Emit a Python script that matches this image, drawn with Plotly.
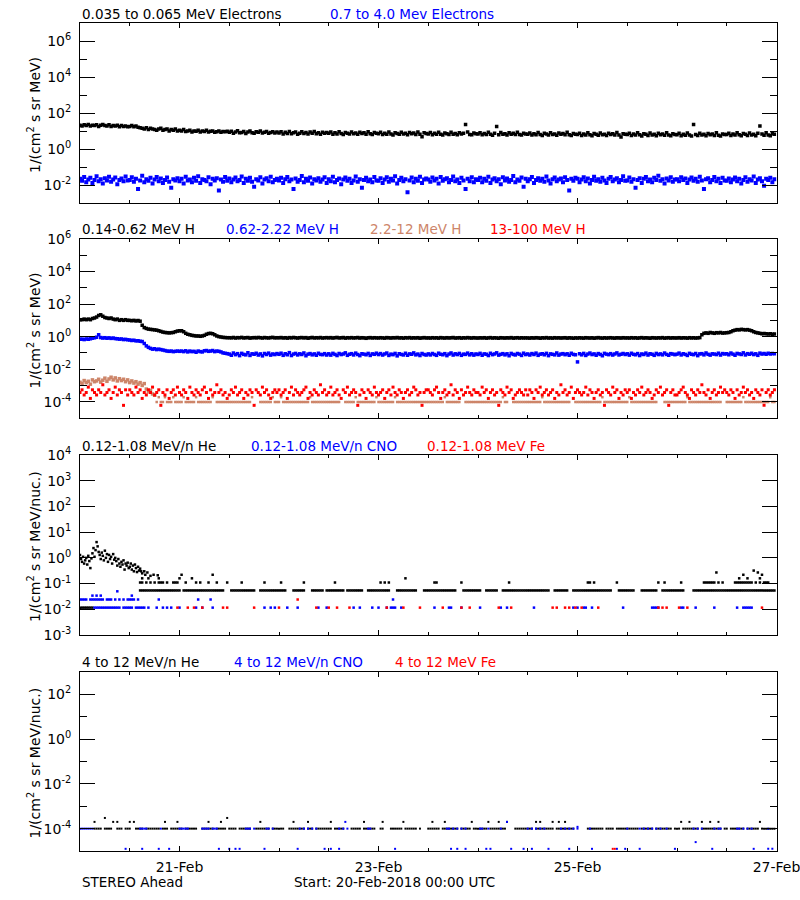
import plotly.graph_objects as go
import pandas as pd

START = pd.Timestamp("2018-02-20 00:00")
END = pd.Timestamp("2018-02-27 00:00")

# ---------------- Panel 1: electrons, 30-min samples ----------------
E_LO = [21,19,22,20,23,19,21,20,22,18,21,23,20,19,22,18,20,19,21,17,20,18,19,17,
 18,20,17,19,16,15,14,13,15,12,14,13,12,11,13,14,11,12,13,10,12,11,13,10,
 11,10,12,9.4,10,11,8.9,10,9.6,11,8.7,10,9.3,11,8.8,9.7,10,8.5,9.2,10,8.6,9.5,9.0,9.8,
 8.5,9.8,7.6,8.9,10.2,7.9,8.3,9.4,7.2,8.8,9.9,8.0,7.5,9.1,8.4,10,7.7,8.6,9.5,7.4,8.2,9.2,7.8,8.7,
 7.8,9.1,6.9,8.4,7.3,9.5,7.0,8.1,8.8,6.7,7.6,9.0,7.2,8.3,6.8,8.9,7.5,9.3,7.1,8.0,6.6,8.6,7.4,8.2,
 7.4,8.7,6.6,7.9,6.9,9.0,7.2,6.4,8.3,7.6,6.8,8.9,7.0,7.7,6.5,8.5,7.3,8.0,6.7,9.1,7.1,6.3,8.2,7.5,
 7.1,8.4,6.4,7.6,6.7,8.8,6.9,5.9,8.0,7.3,6.5,8.6,6.8,7.4,6.2,8.3,7.0,7.8,6.4,8.9,6.6,4.8,7.9,7.2,
 6.9,8.2,6.2,7.4,6.5,8.6,6.7,6.0,7.8,7.1,6.3,8.4,6.6,7.2,6.1,8.0,6.8,7.5,23,8.7,6.4,6.1,7.7,7.0,
 6.8,8.0,6.1,7.3,6.4,8.5,6.6,5.8,7.6,18,6.2,8.2,6.5,7.1,6.0,7.9,6.7,7.4,6.3,8.6,6.4,5.9,7.5,6.9,
 6.6,7.8,5.9,7.1,6.2,8.3,6.4,5.6,7.4,6.8,6.0,8.0,6.3,6.9,5.8,7.7,6.5,7.2,6.1,8.4,6.2,5.7,7.3,6.7,
 6.4,7.6,5.7,6.9,6.0,8.1,6.2,5.4,7.2,6.6,5.8,7.8,6.1,6.7,5.6,7.5,6.3,7.0,5.9,8.2,6.0,4.6,7.1,6.5,
 6.3,7.5,5.6,6.8,5.9,7.9,6.1,5.3,7.1,6.5,5.7,7.7,6.0,6.6,5.5,7.4,6.2,6.9,5.8,8.0,5.9,5.4,7.0,6.4,
 6.2,7.4,5.5,6.7,5.8,7.8,6.0,5.2,23,6.4,5.6,7.6,5.9,6.5,5.4,7.3,6.1,6.8,5.7,7.9,5.8,5.3,6.9,6.3,
 6.3,7.5,5.6,6.8,5.9,7.9,6.1,5.4,7.2,6.5,5.7,7.7,6.0,6.6,5.5,7.4,19,6.9,5.8,8.0,5.9,5.5,7.0,6.6]

E_HI = [.022,.017,.028,.014,.020,.025,.013,.019,.031,.016,.021,.012,.024,.018,.029,.015,.020,.026,.011,.019,.023,.016,.030,.018,
 .019,.027,.015,.022,.006,.018,.033,.014,.021,.017,.025,.012,.020,.028,.016,.023,.013,.019,.026,.015,.007,.021,.018,.024,
 .016,.022,.012,.029,.018,.020,.014,.025,.017,.031,.013,.021,.019,.016,.027,.011,.022,.018,.024,.005,.020,.015,.028,.017,
 .023,.014,.020,.026,.016,.019,.030,.013,.022,.017,.025,.015,.008,.021,.018,.027,.012,.020,.024,.016,.029,.014,.019,.022,
 .018,.025,.013,.021,.028,.016,.020,.006,.023,.015,.019,.032,.014,.022,.017,.026,.012,.021,.018,.024,.015,.020,.027,.013,
 .021,.016,.029,.014,.019,.023,.011,.020,.026,.017,.022,.013,.018,.030,.015,.021,.007,.019,.025,.016,.020,.014,.028,.018,
 .017,.024,.013,.020,.027,.015,.022,.018,.031,.012,.019,.025,.016,.021,.004,.018,.026,.014,.022,.017,.029,.013,.020,.023,
 .020,.015,.026,.018,.022,.012,.028,.017,.021,.024,.014,.019,.030,.016,.020,.013,.025,.018,.006,.022,.016,.027,.014,.021,
 .019,.025,.014,.022,.017,.029,.013,.020,.024,.016,.021,.011,.027,.018,.023,.015,.019,.032,.014,.020,.017,.026,.008,.022,
 .016,.021,.028,.013,.019,.024,.017,.022,.015,.030,.018,.012,.021,.026,.016,.020,.023,.014,.027,.019,.005,.022,.017,.025,
 .022,.014,.020,.027,.016,.023,.012,.019,.029,.017,.021,.015,.025,.018,.013,.022,.028,.016,.020,.024,.014,.019,.031,.017,
 .018,.026,.015,.021,.007,.019,.024,.013,.022,.028,.016,.020,.014,.025,.019,.033,.017,.021,.012,.023,.018,.027,.015,.020,
 .021,.016,.027,.019,.023,.013,.020,.026,.017,.022,.015,.029,.018,.006,.021,.024,.014,.019,.028,.016,.022,.013,.025,.018,
 .017,.023,.014,.020,.026,.016,.022,.012,.019,.027,.015,.021,.018,.030,.013,.020,.024,.016,.009,.022,.019,.025,.014,.021]

# ---------------- Panel 2: protons, 30-min samples ----------------
H_LO = [11,11,12,11,12,11,13,14,16,20,22,18,15,14,13,14,12,11,12,10,11,10,11,10,
 10,9.5,10,9.2,9.8,8.9,5.0,3.6,3.2,2.9,2.8,2.7,2.6,2.5,2.3,2.1,1.9,1.8,1.75,1.7,1.75,1.8,2.0,2.2,
 2.3,2.3,2.0,1.6,1.4,1.3,1.2,1.15,1.1,1.1,1.05,1.1,1.2,1.4,1.55,1.6,1.5,1.3,1.1,1.0,.95,.9,.88,.86,
 .86,.84,.89,.82,.87,.85,.90,.83,.86,.88,.81,.85,.87,.84,.89,.86,.82,.88,.85,.83,.87,.90,.84,.86,
 .85,.88,.83,.86,.81,.87,.84,.89,.85,.82,.86,.88,.84,.87,.80,.85,.89,.83,.86,.84,.88,.82,.85,.87,
 .84,.87,.82,.86,.89,.83,.85,.88,.81,.86,.84,.87,.83,.85,.88,.82,.86,.84,.79,.85,.87,.83,.86,.84,
 .83,.86,.84,.81,.87,.85,.82,.86,.84,.88,.83,.85,.81,.86,.84,.87,.82,.85,.83,.86,.80,.84,.87,.83,
 .84,.82,.86,.83,.85,.81,.87,.84,.82,.86,.83,.85,.88,.82,.84,.86,.81,.85,.83,.87,.84,.82,.86,.83,
 .82,.85,.83,.86,.81,.84,.87,.82,.85,.83,.80,.86,.84,.82,.85,.83,.87,.81,.84,.86,.82,.85,.83,.84,
 .83,.81,.85,.82,.86,.84,.80,.85,.83,.87,.82,.84,.81,.86,.83,.85,.82,.84,.86,.81,.85,.83,.80,.84,
 .82,.85,.83,.81,.86,.84,.82,.85,.80,.84,.87,.83,.81,.85,.82,.84,.86,.83,.81,.85,.84,.82,.86,.83,
 .84,.82,.86,.83,.85,.81,.84,.87,.82,.85,.83,.80,.86,.84,.82,.85,.83,.87,.81,.84,.86,.82,.85,.83,
 .83,.86,.82,.85,.84,.81,.86,.83,.85,.82,.84,.87,1.3,1.6,1.7,1.6,1.8,1.7,1.6,1.75,1.7,1.8,1.65,1.7,
 1.75,1.8,2.0,2.3,2.5,2.7,2.6,2.8,2.7,2.6,2.7,2.5,2.3,2.0,1.8,1.7,1.6,1.5,1.55,1.5,1.45,1.5,1.4,1.45]

H_MID = [.68,.70,.66,.72,.69,.74,.80,.85,.92,1.3,.88,.82,.86,.80,.84,.78,.82,.76,.74,.70,.72,.66,.68,.64,
 .62,.58,.60,.55,.56,.52,.50,.38,.27,.22,.19,.17,.18,.16,.17,.16,.15,.14,.13,.125,.13,.12,.125,.13,
 .125,.13,.12,.135,.115,.13,.12,.125,.11,.13,.12,.115,.135,.14,.125,.13,.14,.12,.13,.125,.115,.10,.095,.09,
 .085,.072,.098,.078,.090,.068,.094,.081,.076,.102,.070,.088,.083,.095,.074,.087,.066,.092,.080,.097,.073,.086,.079,.091,
 .082,.096,.071,.089,.077,.104,.069,.085,.093,.075,.088,.080,.099,.067,.084,.091,.076,.087,.072,.095,.081,.078,.090,.074,
 .088,.073,.094,.081,.069,.092,.079,.086,.101,.071,.083,.090,.075,.097,.080,.068,.089,.084,.077,.093,.070,.087,.082,.096,
 .079,.091,.074,.086,.098,.070,.084,.078,.093,.066,.089,.081,.075,.095,.072,.087,.083,.100,.076,.085,.069,.092,.080,.074,
 .087,.075,.092,.080,.071,.096,.083,.077,.090,.068,.085,.099,.074,.088,.079,.093,.071,.084,.081,.097,.076,.089,.073,.086,
 .080,.094,.072,.087,.083,.069,.095,.078,.086,.101,.073,.082,.090,.076,.088,.067,.093,.081,.075,.092,.084,.070,.096,.079,
 .086,.074,.091,.080,.097,.071,.084,.089,.077,.094,.068,.087,.082,.076,.099,.073,.085,.090,.078,.088,.072,.095,.081,.077,
 .028,.089,.076,.093,.070,.085,.098,.079,.087,.072,.091,.081,.067,.094,.084,.078,.090,.074,.086,.100,.075,.083,.092,.080,
 .088,.073,.095,.082,.077,.091,.069,.086,.080,.097,.074,.089,.083,.071,.093,.079,.087,.076,.098,.081,.072,.090,.085,.078,
 .084,.097,.075,.089,.081,.070,.094,.083,.078,.092,.068,.087,.090,.076,.099,.082,.073,.088,.085,.079,.096,.074,.091,.086,
 .089,.077,.098,.084,.072,.093,.087,.080,.101,.075,.090,.083,.095,.079,.088,.071,.097,.085,.092,.082,.096,.087,.093,.090]

# 13-100 MeV H, in units of 1e-4
H_HI_UNIT = 1e-4
H_HI = [3.7,5.4,2.6,3.7,7.9,1.6,5.4,3.7,2.6,5.4,3.7,11,2.6,3.7,5.4,1.6,3.7,7.9,2.6,5.4,3.7,0.6,5.4,2.6,
 5.4,3.7,2.6,7.9,3.7,5.4,1.6,3.7,2.6,5.4,3.7,7.9,2.6,3.7,5.4,0.6,3.7,2.6,5.4,1.6,3.7,5.4,2.6,7.9,
 3.7,2.6,5.4,3.7,1.6,7.9,3.7,2.6,5.4,3.7,2.6,5.4,7.9,3.7,1.6,5.4,2.6,3.7,11,3.7,5.4,2.6,3.7,1.6,
 2.6,5.4,3.7,7.9,2.6,3.7,5.4,1.6,3.7,2.6,5.4,3.7,0.6,5.4,3.7,2.6,7.9,3.7,5.4,2.6,1.6,3.7,5.4,3.7,
 5.4,2.6,3.7,5.4,1.6,3.7,7.9,2.6,5.4,3.7,2.6,3.7,5.4,7.9,1.6,3.7,2.6,5.4,3.7,2.6,11,3.7,5.4,2.6,
 3.7,7.9,2.6,3.7,5.4,2.6,1.6,5.4,3.7,7.9,2.6,3.7,5.4,3.7,0.6,2.6,5.4,3.7,1.6,5.4,3.7,2.6,7.9,3.7,
 2.6,3.7,5.4,1.6,3.7,5.4,2.6,7.9,3.7,2.6,5.4,3.7,1.6,3.7,5.4,2.6,3.7,7.9,5.4,2.6,3.7,0.6,3.7,5.4,
 5.4,3.7,2.6,5.4,7.9,3.7,1.6,3.7,5.4,2.6,3.7,11,2.6,5.4,3.7,1.6,5.4,2.6,3.7,7.9,3.7,2.6,5.4,3.7,
 3.7,2.6,7.9,3.7,5.4,1.6,3.7,5.4,2.6,3.7,0.6,5.4,3.7,2.6,7.9,3.7,5.4,1.6,2.6,3.7,5.4,3.7,2.6,5.4,
 2.6,5.4,3.7,1.6,5.4,3.7,7.9,2.6,3.7,5.4,2.6,3.7,5.4,1.6,3.7,2.6,11,3.7,5.4,2.6,3.7,7.9,1.6,3.7,
 5.4,3.7,2.6,3.7,7.9,2.6,5.4,3.7,1.6,3.7,5.4,2.6,3.7,0.6,5.4,3.7,2.6,7.9,3.7,5.4,1.6,3.7,2.6,5.4,
 3.7,5.4,1.6,3.7,2.6,5.4,3.7,7.9,2.6,3.7,5.4,3.7,1.6,2.6,5.4,3.7,7.9,2.6,3.7,5.4,0.6,3.7,5.4,2.6,
 2.6,3.7,5.4,7.9,3.7,2.6,1.6,5.4,3.7,2.6,5.4,3.7,11,3.7,2.6,5.4,1.6,3.7,5.4,2.6,3.7,7.9,3.7,5.4,
 3.7,2.6,5.4,3.7,1.6,5.4,2.6,3.7,7.9,3.7,5.4,2.6,3.7,1.6,5.4,3.7,2.6,5.4,0.6,3.7,5.4,2.6,3.7,5.4]

# 2.2-12 MeV H: early event values (30-min), then count level per 30-min bin
H_MED_EARLY = [1.6e-3,1.3e-3,2.0e-3,1.5e-3,1.8e-3,1.2e-3,2.2e-3,1.7e-3,1.9e-3,2.4e-3,1.6e-3,2.1e-3,
 2.8e-3,1.8e-3,2.5e-3,3.2e-3,2.2e-3,2.9e-3,1.9e-3,2.6e-3,2.0e-3,2.4e-3,1.7e-3,2.2e-3,
 1.5e-3,1.9e-3,1.4e-3,1.7e-3,1.2e-3,1.5e-3,1.0e-3,1.3e-3,6e-4,4e-4,5e-4,3e-4,2.5e-4]
H_MED_LEVELS = {1: 9.6e-5, 2: 1.9e-4}
H_MED_COUNTS = [0]*24 + [
 0,0,0,0,0,0,0,0,0,0,0,0,0,1,2,1,1,2,1,1,1,2,1,1,
 1,1,2,1,1,1,1,1,2,1,1,1,1,1,1,1,2,0,1,1,1,1,1,1,
 1,1,1,1,1,1,1,1,1,1,1,2,0,0,0,1,1,1,1,1,1,2,1,1,
 1,2,1,1,1,1,1,1,1,1,1,1,1,1,1,2,1,1,1,1,1,1,1,1,
 1,1,1,1,1,1,0,0,1,1,1,1,1,2,1,1,1,1,1,1,1,1,1,2,
 1,1,1,1,1,1,1,1,2,1,1,1,1,1,1,1,1,1,1,1,1,1,1,1,
 1,1,1,1,1,1,1,1,2,1,1,1,1,1,1,1,0,0,1,1,1,1,1,1,
 1,1,1,1,1,1,1,1,1,1,1,1,2,1,1,0,0,1,1,1,1,1,1,1,
 1,1,1,1,1,1,1,2,1,1,1,1,1,1,1,1,1,1,1,1,1,0,0,1,
 1,1,1,1,1,1,1,1,1,1,1,1,2,1,1,1,1,1,1,1,1,1,1,1,
 1,2,1,1,1,1,1,1,1,1,1,1,1,1,1,0,0,0,1,1,1,1,1,1,
 1,1,1,1,1,2,1,1,1,1,1,1,1,1,1,1,1,1,1,1,1,1,0,0,
 1,1,1,1,1,1,1,1,2,1,1,1,1,1,1,1,1,1,1,1,1,2,1,1]

# ---------------- Panel 3: 0.12-1.08 MeV/n ions ----------------
HE_EARLY = [1.3,0.9,0.7,1.1,0.6,0.8,1.0,0.55,1.2,0.75,0.4,0.95,
 1.5,2.4,1.1,2.0,4.1,2.8,1.7,1.3,0.9,1.6,1.2,0.8,
 1.9,1.0,1.4,0.7,1.3,0.9,1.1,0.6,1.4,0.85,1.0,0.75,
 0.5,0.9,0.6,0.45,0.7,0.55,0.8,0.35,0.6,0.5,0.65,0.4,
 0.45,0.6,0.35,0.5,0.3,0.55,0.4,0.28,0.45,0.32,0.38,0.3,
 0.25,None,0.3,0.22,None,0.27,None,None,0.2,None,None,0.22,None,None,None,0.21]  # 15-min
HE_ONE = 0.054
HE_ONE_PRESENT = [0]*24 + [
 0,0,0,0,0,1,1,1,1,1,1,1,1,1,1,1,1,1,1,1,1,1,1,1,
 1,0,1,1,1,1,1,1,1,1,1,1,1,1,1,1,1,1,1,1,1,1,0,0,
 0,1,1,1,1,1,1,1,1,1,1,1,1,0,0,1,1,1,1,1,1,1,1,1,
 1,1,1,1,0,0,0,1,1,1,1,1,1,0,0,0,1,1,1,1,1,1,0,1,
 1,1,1,1,1,1,1,1,0,1,1,1,1,1,1,1,1,0,0,1,1,1,1,1,
 1,1,1,1,1,1,0,0,0,1,1,1,1,1,1,1,1,1,1,0,0,0,1,1,
 1,1,1,1,1,1,1,1,1,1,1,1,1,1,0,0,0,1,1,1,1,1,1,1,
 1,1,0,0,1,1,1,1,1,1,0,0,1,1,1,1,1,1,1,1,1,1,1,1,
 1,1,1,1,1,1,1,1,1,1,1,0,0,1,1,1,1,1,1,1,0,0,1,1,
 1,1,1,1,1,1,1,1,1,1,1,1,1,1,1,1,1,0,0,0,1,1,1,1,
 1,1,1,1,0,0,0,1,1,1,1,1,1,1,1,0,0,1,1,1,1,1,1,1,
 1,1,1,1,0,0,0,0,1,1,1,1,1,1,1,1,1,1,1,1,1,1,1,1,
 1,1,1,1,1,1,1,1,1,1,1,1,1,1,1,1,1,1,1,1,1,1,1,1]
HE_UP = [(14.5,.11),(15,.11),(15,.16),(16,.11),(16.5,.16),(17,.11),(18,.11),(19,.11),(19,.16),(19.5,.11),
 (20,.11),(21,.11),(22.5,.11),(23,.11),(23.5,.11),(24,.16),(24.5,.22),(25.5,.11),(27,.16),(28,.11),
 (29,.11),(31,.11),(32,.22),(33,.11),(35.5,.11),(39,.11),(44.5,.11),(48.5,.11),(54,.11),(61.5,.11),
 (72.5,.11),(73.5,.11),(74.5,.11),(78.5,.16),(85.5,.11),(86,.11),(92,.11),(103.5,.11),(122.5,.11),
 (123,.11),(124,.11),(129.5,.11),(139.5,.11),(141,.11),(145,.11),(150.5,.11),(151,.11),(151.5,.11),
 (152,.11),(152.5,.11),(153,.11),(153.5,.27),(154,.11),(155,.11),(158,.11),(158.5,.11),(159,.11),
 (159,.16),(159.5,.11),(160,.11),(160,.22),(160.5,.11),(161,.11),(161,.16),(161.5,.11),(162,.11),
 (162.5,.32),(163,.11),(163.5,.27),(164,.11),(164,.16),(164.5,.22),(165,.11),(165.5,.11),(166,.11)]
HE_FLOOR_T = [0,0.5,1,1.5,2,2.5,3]
ION_ONE = 0.0116
ION_TWO = 0.024
CNO_ONE_T = [3.5,4,4.5,5,5.5,6,6.5,7,7.5,8,8.5,9,9.5,10.5,11,11.5,12,12.5,13.5,14,14.5,15,15.5,
 16.5,18.5,20,21,22,24,28,29.5,32,44.5,46,47,50,52.5,57.5,59.5,66,67.5,70.5,72,74,75,75.5,76,77.5,
 85.5,89,89.5,92,96.5,101.5,103,109.5,119,120,121.5,122,123.5,131,138,138.5,139,139.5,145,145.5,
 148.5,153,158.5,160,160.5,161,161.5,162]
CNO_TWO_T = [0,0.5,1,1.5,2.5,3,3.5,4,4.5,5,5.5,6.5,7,7.5,8.5,9.5,10.5,11.5,12,12.5,13,14,19,28.5,31.5,75.5]
CNO_UP = [(3,.034),(4,.034),(5,.034),(9,.05),(12.5,.034)]
FE_ONE_T = [23.5,26,27.5,29.5,34.5,35.5,42,48,57,60,62,65,74,78,82,87.5,92,94,101,104,114,115,117,118,
 119.5,121,125,139.5,140.5,141.5,144.5,146.5,164.5]
FE_TWO_T = [52.5]

# ---------------- Panel 4: 4-12 MeV/n ions ----------------
P4_ONE = 1.0e-4
P4_HE_PRESENT = [
 0,0,0,0,0,0,0,1,1,1,1,0,1,1,1,1,0,0,1,1,1,0,1,1,
 1,0,0,1,1,1,1,0,1,1,1,1,1,1,1,0,1,1,1,0,1,1,1,1,
 1,1,0,1,1,1,1,1,1,0,0,1,1,1,1,1,1,0,1,1,1,1,1,0,
 1,1,1,1,0,1,1,1,1,1,1,0,0,1,1,1,1,1,1,1,0,1,1,1,
 1,1,1,0,0,1,1,1,1,1,1,1,1,0,1,1,1,0,1,1,1,1,1,1,
 1,1,0,1,1,1,1,1,0,0,0,1,1,1,1,1,0,1,1,1,1,1,1,0,
 0,1,1,0,0,0,1,1,1,1,1,1,0,1,1,1,1,1,1,0,1,0,0,0,
 1,1,1,1,1,1,0,1,1,1,1,1,1,1,1,0,1,1,1,1,1,0,1,1,
 1,1,1,1,1,0,1,1,1,1,1,1,1,1,0,0,0,0,1,1,1,1,1,1,
 1,1,1,0,1,1,1,1,1,1,1,1,1,0,1,1,1,1,1,1,1,1,1,0,
 0,0,0,0,0,1,1,1,1,1,1,1,1,0,1,1,1,1,0,1,1,1,1,1,
 1,1,1,1,1,1,0,1,1,1,1,1,1,0,1,1,1,1,1,1,1,1,0,1,
 1,1,0,1,1,1,1,1,1,1,1,0,1,1,1,1,1,1,1,1,1,1,0,1,
 1,0,1,1,1,1,1,1,1,0,1,1,1,1,1,1,0,1,1,1,1,1,1,1]
P4_HE_TWO_T = [3.5,8,9,12,13,20.5,23.5,31,34,43.5,51.5,55,60.5,68.5,73,78,85,88,94.5,98.5,101,103,
 110,111,114,115.5,117,145,147,150,152,154,164]
P4_HE_THREE_T = [6,35.5]
P4_CNO_ONE_T = [0,0.5,1,1.5,2,2.5,3,14.5,15,15.5,16,19.5,24,24.5,25,25.5,26,29.5,30,30.5,31,32,32.5,33,
 40,40.5,41,42,45,45.5,46.5,53,54,55,56,57,62.5,63.5,64.5,69.5,70,88.5,89,90,91,92,93,96.5,97,98.5,
 101.5,108,109,110,111,112,116,117,118,119,120,123,132,135,136,137,138,139,140,141.5,148,149,150,
 153,154,154.5,158.5,159,160,161,162,166]
P4_CNO_TWO_T = [64,103]
P4_LOW = 1.25e-5
P4_CNO_LOW_T = [11,15,19,21.5,33.5,36,37.5,38.5,44.5,52.5,59,60.5,62.5,76,89.5,91,93,98,99,104,107,109,
 113,118,123.5,129.5,131.5,135,143.5,152.5,162.5,166,167]
P4_CNO_MID = [(148.5, 2.5e-5), (120, 1.2e-4)]
P4_FE_LOW_T = [128.5,129]

BLACK, BLUE, RED, BROWN = "#000000", "#0000ff", "#ff0000", "rgb(205,133,105)"
FONT = "DejaVu Sans"
FS = 13.5


def on_grid(n, minutes=30):
    return [START + pd.Timedelta(minutes=minutes * i) for i in range(n)]


def at_hours(hs):
    return [START + pd.Timedelta(hours=h) for h in hs]


fig = go.Figure()


def add(k, x, y, color, size=3):
    xs = [a for a, b in zip(x, y) if b]
    ys = [b for b in y if b]
    fig.add_trace(go.Scatter(
        x=xs, y=ys, mode="markers", showlegend=False, hoverinfo="skip",
        marker=dict(symbol="square", size=size, color=color, line=dict(width=0)),
        xaxis="x" if k == 1 else f"x{k}", yaxis="y" if k == 1 else f"y{k}"))


# panel 1
add(1, on_grid(len(E_LO)), E_LO, BLACK, 3.5)
add(1, on_grid(len(E_HI)), E_HI, BLUE, 4)
# panel 2
add(2, on_grid(len(H_LO)), H_LO, BLACK, 3.5)
add(2, on_grid(len(H_MID)), H_MID, BLUE, 3.5)
add(2, on_grid(len(H_MED_EARLY)), H_MED_EARLY, BROWN, 3.5)
add(2, on_grid(len(H_MED_COUNTS)), [H_MED_LEVELS.get(c) for c in H_MED_COUNTS], BROWN, 2.5)
add(2, on_grid(len(H_HI)), [v * H_HI_UNIT for v in H_HI], RED, 3)
# panel 3
add(3, on_grid(len(HE_EARLY), 15), HE_EARLY, BLACK, 2.5)
add(3, on_grid(len(HE_ONE_PRESENT)), [HE_ONE if p else None for p in HE_ONE_PRESENT], BLACK, 2.5)
add(3, at_hours([h for h, _ in HE_UP]), [v for _, v in HE_UP], BLACK, 2.5)
add(3, at_hours(HE_FLOOR_T), [ION_ONE] * len(HE_FLOOR_T), BLACK, 2.5)
add(3, at_hours(CNO_ONE_T), [ION_ONE] * len(CNO_ONE_T), BLUE, 2.5)
add(3, at_hours(CNO_TWO_T), [ION_TWO] * len(CNO_TWO_T), BLUE, 2.5)
add(3, at_hours([h for h, _ in CNO_UP]), [v for _, v in CNO_UP], BLUE, 2.5)
add(3, at_hours(FE_ONE_T), [ION_ONE] * len(FE_ONE_T), RED, 2.5)
add(3, at_hours(FE_TWO_T), [ION_TWO] * len(FE_TWO_T), RED, 2.5)
# panel 4
add(4, on_grid(len(P4_HE_PRESENT)), [P4_ONE if p else None for p in P4_HE_PRESENT], BLACK, 2)
add(4, at_hours(P4_HE_TWO_T), [2 * P4_ONE] * len(P4_HE_TWO_T), BLACK, 2)
add(4, at_hours(P4_HE_THREE_T), [3 * P4_ONE] * len(P4_HE_THREE_T), BLACK, 2)
add(4, at_hours(P4_CNO_ONE_T), [P4_ONE] * len(P4_CNO_ONE_T), BLUE, 2)
add(4, at_hours(P4_CNO_TWO_T), [2 * P4_ONE] * len(P4_CNO_TWO_T), BLUE, 2)
add(4, at_hours(P4_CNO_LOW_T), [P4_LOW] * len(P4_CNO_LOW_T), BLUE, 2)
add(4, at_hours([h for h, _ in P4_CNO_MID]), [v for _, v in P4_CNO_MID], BLUE, 2)
add(4, at_hours(P4_FE_LOW_T), [P4_LOW] * len(P4_FE_LOW_T), RED, 2)

# ---------------- layout ----------------
W, H = 800, 900
XD = [80 / W, 776.5 / W]
PANELS = [(23, 203), (239, 418), (455, 635), (672, 851)]
YR = [[-3, 7], [-5, 6], [-3, 4], [-5, 3]]
MAJ = [[-2, 0, 2, 4, 6], [-4, -2, 0, 2, 4, 6], [-3, -2, -1, 0, 1, 2, 3, 4], [-4, -2, 0, 2]]
MIN = [[-1, 1, 3, 5], [-3, -1, 1, 3, 5], [], [-3, -1, 1]]
XT = ["2018-02-21", "2018-02-23", "2018-02-25", "2018-02-27"]
XL = ["21-Feb", "23-Feb", "25-Feb", "27-Feb"]

layout = dict(width=W, height=H, margin=dict(l=0, r=0, t=0, b=0, autoexpand=False),
              paper_bgcolor="white", plot_bgcolor="white",
              font=dict(family=FONT, size=FS, color="black"))
for k in range(1, 5):
    top, bot = PANELS[k - 1]
    sfx = "" if k == 1 else str(k)
    layout["xaxis" + sfx] = dict(
        domain=XD, type="date", range=["2018-02-20", "2018-02-27"], anchor="y" + sfx,
        automargin=False,
        showline=True, linecolor="black", linewidth=1, mirror="ticks",
        ticks="inside", ticklen=5, tickcolor="black", tickwidth=1,
        tickmode="array", tickvals=XT, ticktext=XL, showticklabels=(k == 4),
        tickfont=dict(family=FONT, size=14), ticklabelstandoff=3,
        ticklabeloverflow="allow",
        showgrid=False, zeroline=False,
        minor=dict(ticks="inside", ticklen=3, tickcolor="black", dtick=12 * 3600 * 1000,
                   tick0="2018-02-20", showgrid=False))
    layout["yaxis" + sfx] = dict(
        domain=[1 - bot / H, 1 - top / H], type="log", range=YR[k - 1], anchor="x" + sfx,
        automargin=False,
        showline=True, linecolor="black", linewidth=1, mirror="ticks",
        ticks="inside", ticklen=15, tickcolor="black", tickwidth=1,
        tickmode="array", tickvals=[10.0 ** e for e in MAJ[k - 1]],
        ticktext=[f"10<sup>{e}</sup>" for e in MAJ[k - 1]],
        tickfont=dict(family=FONT, size=14), ticklabelstandoff=5,
        showgrid=False, zeroline=False,
        minor=dict(ticks="inside", ticklen=7, tickcolor="black", tickmode="array",
                   tickvals=[10.0 ** e for e in MIN[k - 1]], showgrid=False))

TITLES = [
    [(80, "0.035 to 0.065 MeV Electrons", BLACK), (328, "0.7 to 4.0 Mev Electrons", BLUE)],
    [(80, "0.14-0.62 MeV H", BLACK), (224, "0.62-2.22 MeV H", BLUE),
     (368, "2.2-12 MeV H", BROWN), (488, "13-100 MeV H", RED)],
    [(80, "0.12-1.08 MeV/n He", BLACK), (249, "0.12-1.08 MeV/n CNO", BLUE),
     (425, "0.12-1.08 MeV Fe", RED)],
    [(80, "4 to 12 MeV/n He", BLACK), (232, "4 to 12 MeV/n CNO", BLUE), (393, "4 to 12 MeV Fe", RED)],
]
TITLE_Y = [13.5, 229, 445.5, 661.5]
YTITLES = ["1/(cm<sup>2</sup> s sr MeV)", "1/(cm<sup>2</sup> s sr MeV)",
           "1/(cm<sup>2</sup> s sr MeV/nuc.)", "1/(cm<sup>2</sup> s sr MeV/nuc.)"]

ann = []
for i in range(4):
    for x, txt, col in TITLES[i]:
        ann.append(dict(x=x / W, y=1 - TITLE_Y[i] / H, xref="paper", yref="paper", text=txt,
                        showarrow=False, xanchor="left", yanchor="middle",
                        font=dict(family=FONT, size=FS, color=col)))
    top, bot = PANELS[i]
    ann.append(dict(x=34 / W, y=1 - ((top + bot) / 2 + 2) / H, xref="paper", yref="paper",
                    text=YTITLES[i], textangle=-90, showarrow=False,
                    xanchor="center", yanchor="middle",
                    font=dict(family=FONT, size=14, color=BLACK)))
ann.append(dict(x=80 / W, y=1 - 881.5 / H, xref="paper", yref="paper", text="STEREO Ahead",
                showarrow=False, xanchor="left", yanchor="middle",
                font=dict(family=FONT, size=FS, color=BLACK)))
ann.append(dict(x=292 / W, y=1 - 881.5 / H, xref="paper", yref="paper",
                text="Start: 20-Feb-2018 00:00 UTC",
                showarrow=False, xanchor="left", yanchor="middle",
                font=dict(family=FONT, size=FS, color=BLACK)))
layout["annotations"] = ann

fig.update_layout(**layout)
fig.write_html("out.html", config={"displayModeBar": False},
               post_script="document.body.style.margin='0';document.body.style.padding='0';")
